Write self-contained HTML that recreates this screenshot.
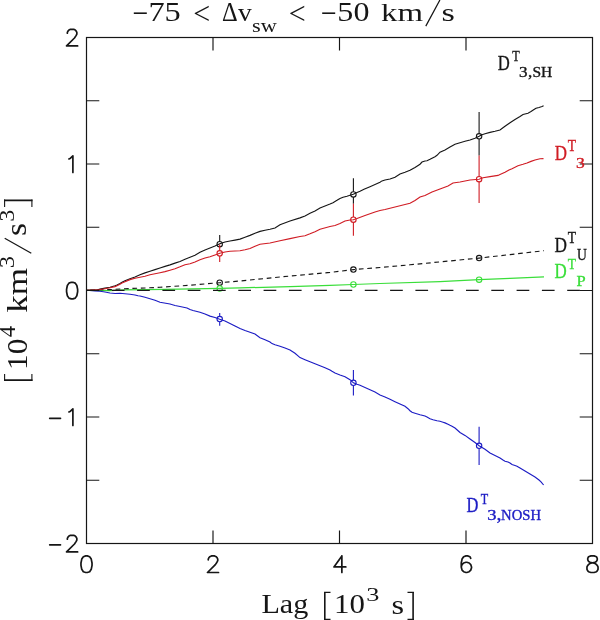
<!DOCTYPE html>
<html><head><meta charset="utf-8"><style>
html,body{margin:0;padding:0;background:#fff;width:600px;height:620px;overflow:hidden}
svg{display:block;will-change:transform}
</style></head><body>
<svg width="600" height="620" viewBox="0 0 600 620">
<rect x="86.5" y="37.5" width="506.0" height="506.0" fill="none" stroke="#161616" stroke-width="1.2"/>
<path d="M213.00,543.5V530.5M213.00,37.5V50.5M339.50,543.5V530.5M339.50,37.5V50.5M466.00,543.5V530.5M466.00,37.5V50.5M86.5,480.25H99.3M592.5,480.25H579.7M86.5,417.00H99.3M592.5,417.00H579.7M86.5,353.75H99.3M592.5,353.75H579.7M86.5,290.50H99.3M592.5,290.50H579.7M86.5,227.25H99.3M592.5,227.25H579.7M86.5,164.00H99.3M592.5,164.00H579.7M86.5,100.75H99.3M592.5,100.75H579.7" stroke="#161616" stroke-width="1.15" fill="none"/>
<polyline points="87.0,290.3 110.0,290.5 125.0,289.8 165.0,289.3 219.7,288.4 240.0,287.9 290.0,286.6 330.0,285.4 353.4,284.5 380.0,283.5 440.0,281.6 479.1,279.7 510.0,278.4 544.0,276.8" fill="none" stroke="#3ade3a" stroke-width="1.25"/>
<polyline points="87.0,290.2 110.0,289.6 125.0,288.7 147.0,287.9 160.0,287.3 190.0,285.2 219.7,282.7 240.0,281.0 280.0,277.0 330.0,272.4 353.4,269.6 380.0,267.5 410.0,264.8 440.0,261.9 479.1,258.1 510.0,254.6 544.0,250.7" fill="none" stroke="#161616" stroke-width="1.15" stroke-dasharray="4.7 3.72" stroke-dashoffset="5.07"/>
<polyline points="87.0,290.3 95.0,291.0 100.0,291.3 105.0,292.0 110.0,293.0 115.0,293.5 120.0,293.3 125.0,293.7 130.0,294.3 135.0,295.0 138.0,295.7 140.0,296.0 145.0,297.3 150.0,298.7 155.0,300.2 160.0,302.3 170.0,304.0 175.0,305.5 180.0,306.5 187.0,308.0 190.0,309.5 193.0,310.5 200.0,312.2 205.0,314.0 210.0,316.1 215.0,317.5 219.7,319.3 225.0,321.0 230.0,323.5 235.0,326.0 240.0,328.5 245.0,330.5 250.0,332.2 255.0,334.0 260.0,337.7 265.0,339.7 270.0,342.0 272.0,343.6 275.0,344.7 280.0,346.3 285.0,348.0 290.0,350.0 295.0,353.2 300.0,357.6 305.0,359.7 310.0,361.7 315.0,363.7 320.0,365.7 325.0,367.7 330.0,370.0 332.0,371.3 335.0,373.0 340.0,375.0 345.0,376.7 350.0,379.7 353.4,382.8 357.0,384.3 360.0,385.3 365.0,387.5 370.0,389.7 375.0,392.0 380.0,395.0 385.0,397.0 390.0,399.3 395.0,401.7 400.0,404.0 405.0,406.3 408.0,408.7 410.0,410.7 412.0,412.3 415.0,413.2 420.0,414.7 425.0,416.0 427.0,417.0 430.0,418.7 433.0,419.8 437.0,420.7 440.0,421.3 443.0,422.2 445.0,422.9 448.0,424.3 450.0,425.3 452.0,426.2 455.0,428.0 460.0,432.5 465.0,435.4 470.0,439.0 475.0,442.5 479.1,445.8 485.0,449.2 490.0,453.0 495.0,455.5 500.0,458.0 503.0,460.0 505.0,461.2 508.0,462.0 510.0,463.0 512.0,464.5 515.0,465.5 517.0,466.2 520.0,468.0 525.0,471.0 530.0,474.0 535.0,477.0 539.0,480.0 541.0,481.8 543.6,485.0" fill="none" stroke="#1c1cc4" stroke-width="1.15"/>
<polyline points="87.0,290.3 97.0,290.0 100.0,289.1 105.0,288.1 110.0,287.2 115.0,285.8 117.0,285.0 120.0,283.4 122.0,282.2 125.0,280.8 130.0,278.7 135.0,277.0 140.0,274.8 145.0,272.9 150.0,271.3 155.0,269.6 160.0,268.0 165.0,266.4 170.0,264.9 175.0,263.1 180.0,261.5 185.0,259.3 190.0,257.3 195.0,255.2 200.0,252.3 205.0,250.0 210.0,248.0 215.0,246.0 219.8,243.7 225.0,242.0 230.0,241.0 235.0,240.1 240.0,239.1 245.0,237.3 250.0,235.4 255.0,233.2 260.0,231.4 265.0,230.2 270.0,229.3 275.0,228.0 280.0,224.7 290.0,221.0 300.0,217.9 305.0,216.0 310.0,213.3 315.0,211.0 320.0,207.9 325.0,206.0 330.0,204.0 333.0,202.7 337.0,200.3 340.0,198.4 343.0,197.3 347.0,196.3 350.0,195.3 353.3,194.3 357.0,192.4 360.0,191.2 364.0,189.3 370.0,186.7 375.0,184.5 380.0,182.3 382.0,180.9 385.0,180.0 390.0,179.0 395.0,177.3 400.0,173.9 405.0,172.3 410.0,170.3 415.0,167.4 420.0,164.2 422.0,162.0 425.0,161.0 427.0,160.7 430.0,159.3 435.0,156.7 437.0,155.3 440.0,152.2 445.0,150.0 450.0,147.0 455.0,144.2 460.0,142.7 465.0,141.3 470.0,140.0 475.0,138.3 479.1,136.3 482.0,134.8 485.0,133.7 490.0,132.4 495.0,131.3 500.0,130.0 505.0,126.3 510.0,122.8 515.0,119.5 520.0,116.5 523.0,114.5 525.0,114.0 528.0,113.2 531.0,111.6 534.0,109.6 536.0,108.3 539.0,107.5 542.0,106.5 543.6,105.8" fill="none" stroke="#161616" stroke-width="1.15"/>
<polyline points="87.0,290.3 100.0,289.5 105.0,288.7 110.0,287.8 115.0,286.6 117.0,285.8 120.0,284.3 122.0,283.0 125.0,281.7 130.0,279.6 135.0,278.2 140.0,277.2 145.0,276.3 150.0,274.8 155.0,273.8 160.0,272.7 165.0,271.6 170.0,270.2 175.0,268.7 180.0,266.8 185.0,264.7 190.0,263.7 195.0,262.0 200.0,259.7 205.0,258.0 210.0,256.7 215.0,255.0 219.8,253.3 225.0,252.0 230.0,251.3 240.0,250.8 245.0,249.8 250.0,248.5 255.0,246.2 260.0,244.3 270.0,243.0 280.0,240.7 290.0,238.6 300.0,236.5 305.0,235.7 310.0,233.8 315.0,231.7 320.0,229.3 330.0,226.5 335.0,225.5 340.0,223.5 345.0,221.0 350.0,220.0 353.3,219.7 357.0,218.5 365.0,215.5 375.0,212.0 380.0,210.5 385.0,209.5 395.0,207.0 405.0,204.5 410.0,203.2 415.0,200.5 420.0,197.0 425.0,195.5 432.0,192.0 440.0,189.0 448.0,186.0 453.0,183.0 460.0,182.0 470.0,180.0 479.1,179.2 483.0,177.8 490.0,176.6 498.0,175.4 500.0,174.5 505.0,172.3 509.0,170.0 512.0,168.7 518.0,165.8 523.0,164.3 527.0,163.0 531.0,161.4 535.0,160.0 540.0,158.7 543.5,158.6" fill="none" stroke="#d01c24" stroke-width="1.15"/>
<line x1="219.7" y1="235" x2="219.7" y2="241.50" stroke="#161616" stroke-width="1.1"/><circle cx="219.7" cy="244.2" r="2.7" fill="none" stroke="#161616" stroke-width="1.1"/>
<line x1="353.4" y1="178.3" x2="353.4" y2="191.70" stroke="#161616" stroke-width="1.1"/><line x1="353.4" y1="197.10" x2="353.4" y2="203.7" stroke="#161616" stroke-width="1.1"/><circle cx="353.4" cy="194.4" r="2.7" fill="none" stroke="#161616" stroke-width="1.1"/>
<line x1="479.1" y1="111.9" x2="479.1" y2="133.60" stroke="#161616" stroke-width="1.1"/><line x1="479.1" y1="139.00" x2="479.1" y2="155.5" stroke="#161616" stroke-width="1.1"/><circle cx="479.1" cy="136.3" r="2.7" fill="none" stroke="#161616" stroke-width="1.1"/>
<line x1="219.7" y1="244.6" x2="219.7" y2="250.60" stroke="#d01c24" stroke-width="1.1"/><line x1="219.7" y1="256.00" x2="219.7" y2="262" stroke="#d01c24" stroke-width="1.1"/><circle cx="219.7" cy="253.3" r="2.7" fill="none" stroke="#d01c24" stroke-width="1.1"/>
<line x1="353.4" y1="203.7" x2="353.4" y2="217.00" stroke="#d01c24" stroke-width="1.1"/><line x1="353.4" y1="222.40" x2="353.4" y2="235.8" stroke="#d01c24" stroke-width="1.1"/><circle cx="353.4" cy="219.7" r="2.7" fill="none" stroke="#d01c24" stroke-width="1.1"/>
<line x1="479.1" y1="155.5" x2="479.1" y2="176.50" stroke="#d01c24" stroke-width="1.1"/><line x1="479.1" y1="181.90" x2="479.1" y2="202.9" stroke="#d01c24" stroke-width="1.1"/><circle cx="479.1" cy="179.2" r="2.7" fill="none" stroke="#d01c24" stroke-width="1.1"/>
<circle cx="219.7" cy="282.7" r="2.7" fill="none" stroke="#161616" stroke-width="1.1"/>
<circle cx="353.4" cy="269.6" r="2.7" fill="none" stroke="#161616" stroke-width="1.1"/>
<circle cx="479.1" cy="258.1" r="2.7" fill="none" stroke="#161616" stroke-width="1.1"/>
<line x1="219.7" y1="285.6" x2="219.7" y2="285.70" stroke="#3ade3a" stroke-width="1.1"/><line x1="219.7" y1="291.10" x2="219.7" y2="291.2" stroke="#3ade3a" stroke-width="1.1"/><circle cx="219.7" cy="288.4" r="2.7" fill="none" stroke="#3ade3a" stroke-width="1.1"/>
<circle cx="353.4" cy="284.5" r="2.7" fill="none" stroke="#3ade3a" stroke-width="1.1"/>
<circle cx="479.1" cy="279.7" r="2.7" fill="none" stroke="#3ade3a" stroke-width="1.1"/>
<line x1="219.7" y1="313" x2="219.7" y2="316.40" stroke="#1c1cc4" stroke-width="1.1"/><line x1="219.7" y1="321.80" x2="219.7" y2="325.8" stroke="#1c1cc4" stroke-width="1.1"/><circle cx="219.7" cy="319.1" r="2.7" fill="none" stroke="#1c1cc4" stroke-width="1.1"/>
<line x1="353.4" y1="370" x2="353.4" y2="380.10" stroke="#1c1cc4" stroke-width="1.1"/><line x1="353.4" y1="385.50" x2="353.4" y2="395.5" stroke="#1c1cc4" stroke-width="1.1"/><circle cx="353.4" cy="382.8" r="2.7" fill="none" stroke="#1c1cc4" stroke-width="1.1"/>
<line x1="479.1" y1="426.7" x2="479.1" y2="443.10" stroke="#1c1cc4" stroke-width="1.1"/><line x1="479.1" y1="448.50" x2="479.1" y2="465" stroke="#1c1cc4" stroke-width="1.1"/><circle cx="479.1" cy="445.8" r="2.7" fill="none" stroke="#1c1cc4" stroke-width="1.1"/>
<line x1="86.5" y1="290.4" x2="592.5" y2="290.4" stroke="#161616" stroke-width="1.4" stroke-dasharray="12.7 12.6"/>
<path d="M85.71,555.91L83.34,556.70L81.76,559.07L80.97,563.02L80.97,565.39L81.76,569.34L83.34,571.71L85.71,572.50L87.29,572.50L89.66,571.71L91.24,569.34L92.03,565.39L92.03,563.02L91.24,559.07L89.66,556.70L87.29,555.91L85.71,555.91M208.26,559.86L208.26,559.07L209.05,557.49L209.84,556.70L211.42,555.91L214.58,555.91L216.16,556.70L216.95,557.49L217.74,559.07L217.74,560.65L216.95,562.23L215.37,564.60L207.47,572.50L218.53,572.50M341.87,555.91L333.97,566.97L345.82,566.97M341.87,555.91L341.87,572.50M470.74,558.28L469.95,556.70L467.58,555.91L466.00,555.91L463.63,556.70L462.05,559.07L461.26,563.02L461.26,566.97L462.05,570.13L463.63,571.71L466.00,572.50L466.79,572.50L469.16,571.71L470.74,570.13L471.53,567.76L471.53,566.97L470.74,564.60L469.16,563.02L466.79,562.23L466.00,562.23L463.63,563.02L462.05,564.60L461.26,566.97M590.92,555.91L588.55,556.70L587.76,558.28L587.76,559.86L588.55,561.44L590.13,562.23L593.29,563.02L595.66,563.81L597.24,565.39L598.03,566.97L598.03,569.34L597.24,570.92L596.45,571.71L594.08,572.50L590.92,572.50L588.55,571.71L587.76,570.92L586.97,569.34L586.97,566.97L587.76,565.39L589.34,563.81L591.71,563.02L594.87,562.23L596.45,561.44L597.24,559.86L597.24,558.28L596.45,556.70L594.08,555.91L590.92,555.91M67.36,33.26L67.36,32.47L68.15,30.89L68.94,30.10L70.52,29.31L73.68,29.31L75.26,30.10L76.05,30.89L76.84,32.47L76.84,34.05L76.05,35.63L74.47,38.00L66.57,45.90L77.63,45.90M68.94,158.97L70.52,158.18L72.89,155.81L72.89,172.40M71.31,282.31L68.94,283.10L67.36,285.47L66.57,289.42L66.57,291.79L67.36,295.74L68.94,298.11L71.31,298.90L72.89,298.90L75.26,298.11L76.84,295.74L77.63,291.79L77.63,289.42L76.84,285.47L75.26,283.10L72.89,282.31L71.31,282.31M68.94,411.97L70.52,411.18L72.89,408.81L72.89,425.40M49.7,418.30H60.5M67.36,539.26L67.36,538.47L68.15,536.89L68.94,536.10L70.52,535.31L73.68,535.31L75.26,536.10L76.05,536.89L76.84,538.47L76.84,540.05L76.05,541.63L74.47,544.00L66.57,551.90L77.63,551.90M49.7,544.80H60.5" fill="none" stroke="#161616" stroke-width="1.7" stroke-linecap="round" stroke-linejoin="round"/>
<path d="M324.8,591.9V620M413.1,591.9V620M4,380.1H32.5M4,200.4H32.5" stroke="#161616" stroke-width="1.6" fill="none"/>
<path d="M324,592.4H330.5M324,619.4H330.5M407.5,592.4H413.9M407.5,619.4H413.9M4.6,374V380.9M31.9,374V380.9M4.6,199.6V206.9M31.9,199.6V206.9" stroke="#161616" stroke-width="1.1" fill="none"/>
<path d="M425.8,26.1L439.9,0M31.3,253.2L4.7,238.2" stroke="#161616" stroke-width="1.25" fill="none"/>
<rect x="133.8" y="12.4" width="13" height="1.6" fill="#161616"/>
<rect x="322.2" y="12.4" width="13" height="1.6" fill="#161616"/>
<text transform="translate(148.39,21.02) scale(1.177,1)" font-family="Liberation Serif" font-size="27.52" fill="#161616">75</text>
<text transform="translate(193.29,23.91) scale(0.932,1)" font-family="Liberation Serif" font-size="32.29" fill="#161616">&lt;</text>
<text transform="translate(222.02,21.00) scale(0.921,1)" font-family="Liberation Serif" font-size="26.52" fill="#161616">Δ</text>
<text transform="translate(238.00,20.74) scale(1.081,1)" font-family="Liberation Serif" font-size="25.53" fill="#161616">v</text>
<text transform="translate(252.11,32.01) scale(1.166,1)" font-family="Liberation Serif" font-size="19.17" fill="#161616">sw</text>
<text transform="translate(288.69,23.91) scale(0.932,1)" font-family="Liberation Serif" font-size="32.29" fill="#161616">&lt;</text>
<text transform="translate(337.37,21.03) scale(1.184,1)" font-family="Liberation Serif" font-size="27.11" fill="#161616">50</text>
<text transform="translate(381.04,21.00) scale(1.270,1)" font-family="Liberation Serif" font-size="25.90" fill="#161616">km</text>
<text transform="translate(441.43,20.74) scale(1.327,1)" font-family="Liberation Serif" font-size="25.83" fill="#161616">s</text>
<text transform="translate(261.40,613.27) scale(1.076,1)" font-family="Liberation Serif" font-size="28.05" fill="#161616">Lag</text>
<text transform="translate(334.02,613.33) scale(1.134,1)" font-family="Liberation Serif" font-size="27.26" fill="#161616">10</text>
<text transform="translate(366.18,601.11) scale(1.358,1)" font-family="Liberation Serif" font-size="19.40" fill="#161616">3</text>
<text transform="translate(391.60,613.64) scale(1.224,1)" font-family="Liberation Serif" font-size="26.46" fill="#161616">s</text>
<text transform="translate(497.70,69.80) scale(0.789,1)" font-family="Liberation Serif" font-size="21.07" fill="#161616" stroke="#161616" stroke-width="0.35">D</text>
<text transform="translate(512.26,60.80) scale(0.851,1)" font-family="Liberation Serif" font-size="14.31" fill="#161616" stroke="#161616" stroke-width="0.35">T</text>
<text transform="translate(519.05,77.45) scale(1.167,1)" font-family="Liberation Serif" font-size="14.63" fill="#161616" stroke="#161616" stroke-width="0.35">3</text>
<text transform="translate(528.11,76.85) scale(0.977,1)" font-family="Liberation Serif" font-size="17.65" fill="#161616" stroke="#161616" stroke-width="0.35">,</text>
<text transform="translate(532.49,77.45) scale(1.062,1)" font-family="Liberation Serif" font-size="14.63" fill="#161616" stroke="#161616" stroke-width="0.35">SH</text>
<text transform="translate(554.69,159.80) scale(0.786,1)" font-family="Liberation Serif" font-size="21.53" fill="#d01c24" stroke="#d01c24" stroke-width="0.35">D</text>
<text transform="translate(567.73,151.00) scale(0.840,1)" font-family="Liberation Serif" font-size="16.15" fill="#d01c24" stroke="#d01c24" stroke-width="0.35">T</text>
<text transform="translate(575.92,167.65) scale(1.201,1)" font-family="Liberation Serif" font-size="14.63" fill="#d01c24" stroke="#d01c24" stroke-width="0.35">3</text>
<text transform="translate(554.48,251.80) scale(0.789,1)" font-family="Liberation Serif" font-size="21.83" fill="#161616" stroke="#161616" stroke-width="0.35">D</text>
<text transform="translate(567.73,243.00) scale(0.840,1)" font-family="Liberation Serif" font-size="16.15" fill="#161616" stroke="#161616" stroke-width="0.35">T</text>
<text transform="translate(576.93,259.83) scale(0.827,1)" font-family="Liberation Serif" font-size="16.54" fill="#161616" stroke="#161616" stroke-width="0.35">U</text>
<text transform="translate(554.49,277.70) scale(0.809,1)" font-family="Liberation Serif" font-size="20.92" fill="#3ade3a" stroke="#3ade3a" stroke-width="0.35">D</text>
<text transform="translate(567.83,269.30) scale(0.862,1)" font-family="Liberation Serif" font-size="15.54" fill="#3ade3a" stroke="#3ade3a" stroke-width="0.35">T</text>
<text transform="translate(576.51,285.80) scale(1.059,1)" font-family="Liberation Serif" font-size="15.57" fill="#3ade3a" stroke="#3ade3a" stroke-width="0.35">P</text>
<text transform="translate(466.41,512.40) scale(0.787,1)" font-family="Liberation Serif" font-size="20.92" fill="#1c1cc4" stroke="#1c1cc4" stroke-width="0.35">D</text>
<text transform="translate(480.66,503.70) scale(0.833,1)" font-family="Liberation Serif" font-size="14.62" fill="#1c1cc4" stroke="#1c1cc4" stroke-width="0.35">T</text>
<text transform="translate(487.17,519.86) scale(1.294,1)" font-family="Liberation Serif" font-size="14.33" fill="#1c1cc4" stroke="#1c1cc4" stroke-width="0.35">3</text>
<text transform="translate(496.60,519.52) scale(1.041,1)" font-family="Liberation Serif" font-size="19.22" fill="#1c1cc4" stroke="#1c1cc4" stroke-width="0.35">,</text>
<text transform="translate(501.06,519.86) scale(1.024,1)" font-family="Liberation Serif" font-size="14.33" fill="#1c1cc4" stroke="#1c1cc4" stroke-width="0.35">NOSH</text>
<g transform="translate(26.6,380.9) rotate(-90)"><text transform="translate(10.88,-0.09) scale(1.081,1)" font-family="Liberation Serif" font-size="29.04" fill="#161616">10</text><text transform="translate(43.65,-11.90) scale(1.014,1)" font-family="Liberation Serif" font-size="22.27" fill="#161616">4</text><text transform="translate(68.10,0.30) scale(1.225,1)" font-family="Liberation Serif" font-size="28.63" fill="#161616">km</text><text transform="translate(112.77,-12.41) scale(1.171,1)" font-family="Liberation Serif" font-size="21.04" fill="#161616">3</text><text transform="translate(144.95,-0.49) scale(1.170,1)" font-family="Liberation Serif" font-size="28.75" fill="#161616">s</text><text transform="translate(159.19,-12.80) scale(1.181,1)" font-family="Liberation Serif" font-size="20.45" fill="#161616">3</text></g>
</svg>
</body></html>
